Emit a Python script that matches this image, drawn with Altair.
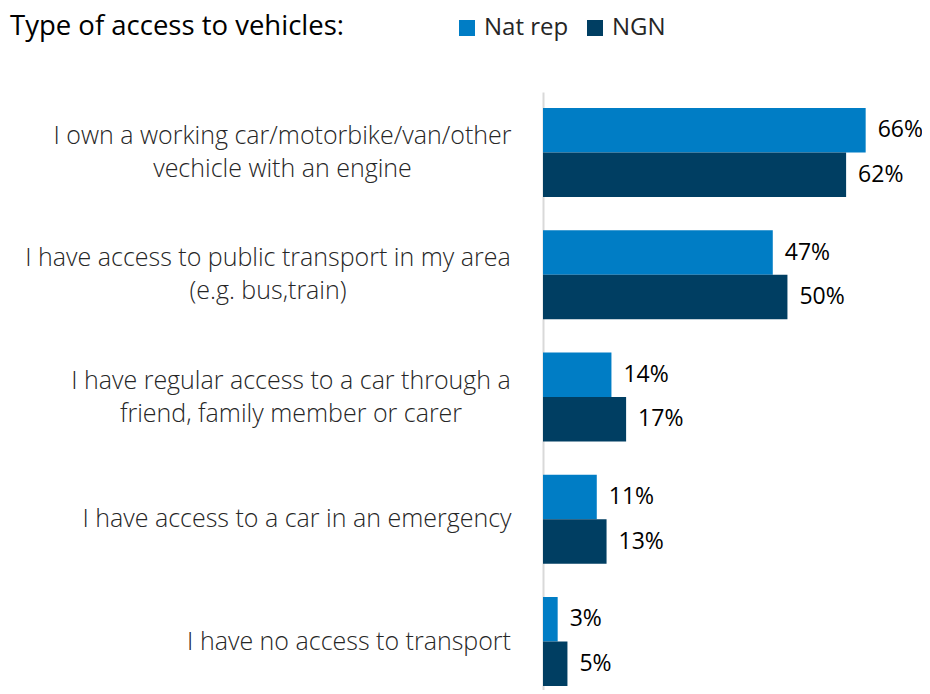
import altair as alt
import pandas as pd

# category label lines
cat_line1 = [
    "I own a working car/motorbike/van/other",
    "I have access to public transport in my area",
    "I have regular access to a car through a",
    "I have access to a car in an emergency",
    "I have no access to transport",
]
cat_line2 = [
    "vechicle with an engine",
    "(e.g. bus,train)",
    "friend, family member or carer",
    "",
    "",
]
series = ["Nat rep", "NGN"]
nat_rep = [66, 47, 14, 11, 3]
ngn = [62, 50, 17, 13, 5]
colors = ["#007DC5", "#003E62"]

# approximate rendered pixel width of each label's first line (for centring lines)
line1_px = [456, 485, 439, 427, 323]

categories = [l1 + ("|" + l2 if l2 else "") for l1, l2 in zip(cat_line1, cat_line2)]

rows = []
for c, a, b in zip(categories, nat_rep, ngn):
    rows.append({"cat": c, "series": "Nat rep", "value": a, "label": f"{a}%"})
    rows.append({"cat": c, "series": "NGN", "value": b, "label": f"{b}%"})
df = pd.DataFrame(rows)

FONT = "Open Sans"
GAP = 33
LINE_H = 33

label_padding = {
    "condition": [
        {"test": f"datum.value == '{c}'", "value": GAP + w / 2.0}
        for c, w in zip(categories, line1_px)
    ],
    "value": GAP,
}
label_offset = {
    "condition": [
        {"test": f"datum.value == '{c}'", "value": -LINE_H / 2.0}
        for c, l2 in zip(categories, cat_line2)
        if l2
    ],
    "value": 0,
}

y_enc = alt.Y(
    "cat:N",
    sort=categories,
    scale=alt.Scale(paddingInner=0.272, paddingOuter=0.0818, align=0.8),
    axis=alt.Axis(
        title=None,
        ticks=False,
        domainColor="#d9d9d9",
        domainWidth=2,
        labelFont=FONT,
        labelFontSize=25,
        labelFontWeight=300,
        labelColor="#262626",
        labelLineHeight=LINE_H,
        labelAlign="center",
        labelPadding=label_padding,
        labelOffset=label_offset,
        labelLimit=0,
        labelExpr="split(datum.label, '|')",
    ),
)
yoff = alt.YOffset("series:N", sort=series, scale=alt.Scale(paddingInner=0, paddingOuter=0))
x_enc = alt.X("value:Q", scale=alt.Scale(domain=[0, 67.5]), axis=None)

bars = alt.Chart(df).mark_bar().encode(
    y=y_enc,
    yOffset=yoff,
    x=x_enc,
    color=alt.Color(
        "series:N",
        sort=series,
        scale=alt.Scale(domain=series, range=colors),
        legend=alt.Legend(
            title=None,
            orient="none",
            direction="horizontal",
            legendX=-88,
            legendY=-76,
            symbolType="square",
            symbolSize=256,
            symbolStrokeWidth=0,
            symbolOpacity=1,
            labelFont=FONT,
            labelFontSize=24,
            labelColor="#262626",
            labelOffset=5,
            columnPadding=14,
        ),
    ),
)

text = alt.Chart(df).mark_text(
    align="left", baseline="middle", dx=12, font=FONT, fontSize=23, color="#000000"
).encode(
    y=alt.Y("cat:N", sort=categories),
    yOffset=yoff,
    x=x_enc,
    text="label:N",
)

chart = (
    alt.layer(bars, text)
    .properties(
        width=330,
        height=598,
        padding={"left": 535, "top": 84, "right": 49, "bottom": 0},
        autosize=alt.AutoSizeParams(type="none"),
        title=alt.TitleParams(
            "Type of access to vehicles:",
            anchor="start",
            frame="group",
            dx=-533,
            dy=24,
            offset=0,
            font=FONT,
            fontSize=27.5,
            fontWeight="normal",
            color="#000000",
        ),
    )
    .configure_view(stroke=None)
)

chart.save("out.html", embed_options={"renderer": "svg", "actions": False})
